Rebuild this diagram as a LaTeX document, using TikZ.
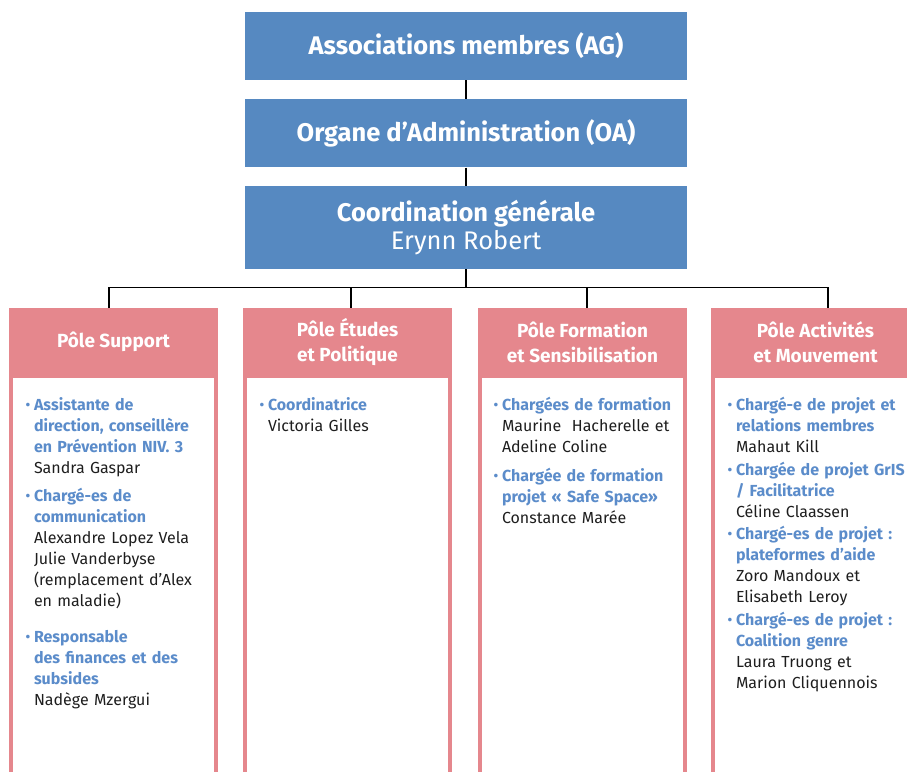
\documentclass[tikz,border=0pt]{standalone}
\usepackage{fontspec}
\setmainfont{Fira Sans}
\usetikzlibrary{positioning, calc}
\definecolor{bleuBoite}{HTML}{5689C1}
\definecolor{rosePole}{HTML}{E5878D}
\definecolor{bleuTitre}{HTML}{5B8CCA}
\definecolor{texteNoir}{HTML}{1E1E1E}
\tikzset{
  instance/.style={rectangle, fill=bleuBoite, text=white, minimum width=442pt, align=center, font=\fontsize{25.5}{28}\selectfont\bfseries, inner sep=0pt},
  pole/.style={rectangle, fill=rosePole, text=white, minimum width=209pt, minimum height=68pt, align=center, font=\fontsize{19}{25}\selectfont\bfseries, inner sep=0pt},
  corps/.style={rectangle, draw=rosePole, line width=4pt, minimum width=205pt, minimum height=420pt, anchor=north, inner sep=0pt},
  liste/.style={anchor=north west, text width=190pt, align=left, inner sep=0pt, font=\fontsize{16}{21}\selectfont, text=texteNoir},
  lien/.style={line width=1.6pt, black}
}
% un poste : fonction en bleu gras, puis les noms
\newcommand{\poste}[2]{\noindent\llap{\textcolor{bleuTitre}{\fontsize{16}{16}\selectfont •}\hspace{3.5pt}}{\color{bleuTitre}\bfseries #1}\\#2\par}

\begin{document}
\begin{tikzpicture}[x=1pt, y=1pt, node distance=18pt]

    \useasboundingbox (0,0) rectangle (907,-771);

    % Instances
    \node[instance, minimum height=68pt] (ag) at (466,-46) {Associations membres (AG)};
    \node[instance, minimum height=68pt, below=19pt of ag] (oa) {Organe d’Administration (OA)};
    \node[instance, minimum height=83pt, below=of oa] (coord) {Coordination générale\\{\mdseries Erynn Robert}};

    \draw[lien] (ag) -- (oa);
    \draw[lien] (oa) -- (coord);

    % Pôles : cadre puis en-tête
    \foreach \nom/\px in {pSupport/113.5, pEtudes/347.5, pFormation/582.5, pActivites/815.5} {
        \node[corps] (c\nom) at (\px,-374) {};
    }
    \node[pole] (pSupport) at (113.5,-342) {Pôle Support};
    \node[pole] (pEtudes) at (347.5,-342) {Pôle Études\\et Politique};
    \node[pole] (pFormation) at (582.5,-342) {Pôle Formation\\et Sensibilisation};
    \node[pole] (pActivites) at (815.5,-342) {Pôle Activités\\et Mouvement};

    % Liaisons vers les pôles
    \coordinate (bus) at ($(coord.south)+(0,-18.5)$);
    \draw[lien] (coord.south) -- (bus);
    \coordinate (dpSupport) at ($(pSupport.north)+(-4.5,0)$);
    \coordinate (dpEtudes) at ($(pEtudes.north)+(3.5,0)$);
    \coordinate (dpFormation) at ($(pFormation.north)+(4.5,0)$);
    \coordinate (dpActivites) at ($(pActivites.north)+(12.5,0)$);
    \foreach \d in {dpSupport, dpEtudes, dpFormation, dpActivites} {
        \draw[lien] (\d) -- (\d |- bus);
    }
    \draw[lien] ([xshift=-0.8pt]dpSupport |- bus) -- ([xshift=0.8pt]dpActivites |- bus);

    % Contenu des pôles
    \node[liste] (lSupport) at ($(pSupport.south west)+(25,-21)$) {
        \poste{Assistante de\\direction, conseillère\\en Prévention NIV. 3}{Sandra Gaspar}
        \vspace{7pt}
        \poste{Chargé-es de\\communication}{Alexandre Lopez Vela\\Julie Vanderbyse\\(remplacement d’Alex\\en maladie)}
        \vspace{15pt}
        \poste{Responsable\\des finances et des\\subsides}{Nadège Mzergui}
    };
    \node[liste] (lEtudes) at ($(pEtudes.south west)+(25,-21)$) {
        \poste{Coordinatrice}{Victoria Gilles}
    };
    \node[liste] (lFormation) at ($(pFormation.south west)+(24,-21)$) {
        \poste{Chargées de formation}{Maurine\ \ Hacherelle et\\Adeline Coline}
        \vspace{8pt}
        \poste{Chargée de formation\\projet « Safe Space»}{Constance Marée}
    };
    \node[liste] (lActivites) at ($(pActivites.south west)+(25,-21)$) {
        \poste{Chargé-e de projet et\\relations membres}{Mahaut Kill}
        \vspace{1.5pt}
        \poste{Chargée de projet GrIS\\/ Facilitatrice}{Céline Claassen}
        \vspace{1.5pt}
        \poste{Chargé-es de projet :\\plateformes d’aide}{Zoro Mandoux et\\Elisabeth Leroy}
        \vspace{1.5pt}
        \poste{Chargé-es de projet :\\Coalition genre}{Laura Truong et\\Marion Cliquennois}
    };

\end{tikzpicture}
\end{document}
